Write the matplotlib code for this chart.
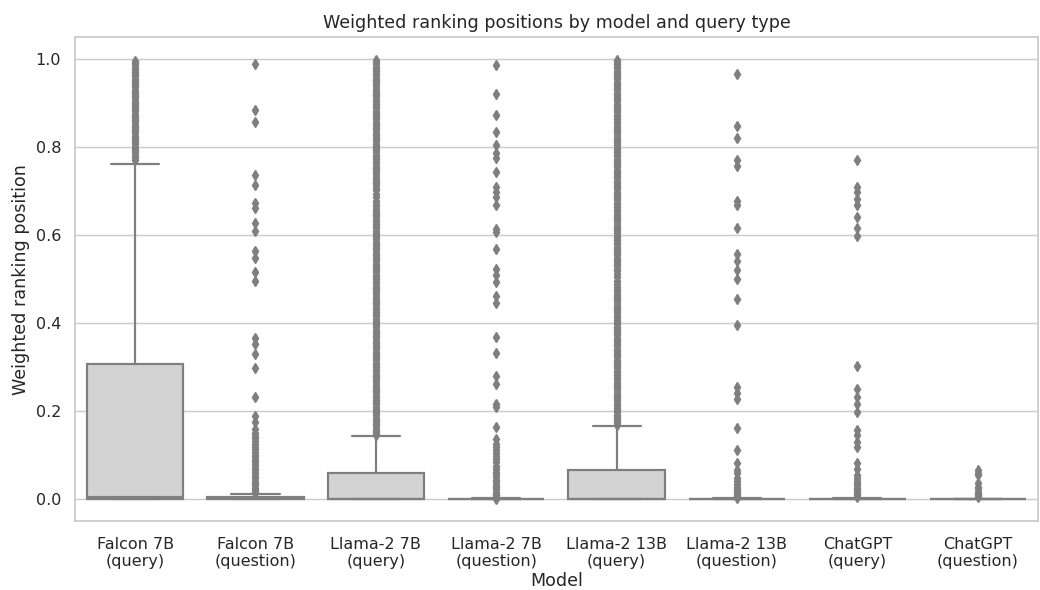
import matplotlib
matplotlib.use("Agg")
import matplotlib.pyplot as plt
import seaborn as sns

# categories along the x axis
models = ["Falcon 7B\n(query)", "Falcon 7B\n(question)", "Llama-2 7B\n(query)", "Llama-2 7B\n(question)",
          "Llama-2 13B\n(query)", "Llama-2 13B\n(question)", "ChatGPT\n(query)", "ChatGPT\n(question)"]

# box statistics
q1 = [0.0, 0.0, 0.0, 0.0, 0.0, 0.0, 0.0, 0.0]
med = [0.004, 0.002, 0.001, 0.0, 0.001, 0.0, 0.0, 0.0]
q3 = [0.307, 0.004, 0.060, 0.001, 0.066, 0.001, 0.001, 0.001]
whislo = [0.0, 0.0, 0.0, 0.0, 0.0, 0.0, 0.0, 0.0]
whishi = [0.762, 0.011, 0.143, 0.002, 0.166, 0.002, 0.002, 0.001]

# outliers per group (dense runs typed point by point)
fl_falcon_query = [0.770, 0.775, 0.780, 0.786, 0.791, 0.796, 0.801, 0.806, 0.811, 0.816, 0.821,
                   0.826, 0.831, 0.836, 0.841, 0.846, 0.851, 0.856, 0.861, 0.866, 0.871, 0.876,
                   0.881, 0.886, 0.891, 0.896, 0.901, 0.906, 0.911, 0.916, 0.921, 0.926, 0.931,
                   0.936, 0.941, 0.946, 0.951, 0.956, 0.961, 0.966, 0.971, 0.976, 0.981, 0.986,
                   0.991, 0.996]
fl_falcon_question = [0.988, 0.884, 0.858, 0.736, 0.713, 0.674, 0.662, 0.628, 0.610, 0.564, 0.548,
                      0.515, 0.495, 0.366, 0.352, 0.330, 0.297, 0.231, 0.188, 0.176, 0.160, 0.150,
                      0.144, 0.138, 0.131, 0.125, 0.119, 0.113, 0.107, 0.101, 0.095, 0.089, 0.083,
                      0.077, 0.071, 0.065, 0.059, 0.053, 0.047, 0.041, 0.036, 0.031, 0.026, 0.021,
                      0.017, 0.013]
fl_llama7_query = [0.146, 0.150, 0.155, 0.160, 0.165, 0.170, 0.175, 0.180, 0.185, 0.190, 0.195,
                   0.200, 0.205, 0.210, 0.215, 0.220, 0.225, 0.230, 0.235, 0.240, 0.245, 0.250,
                   0.255, 0.260, 0.265, 0.270, 0.275, 0.280, 0.285, 0.290, 0.295, 0.300, 0.305,
                   0.310, 0.315, 0.320, 0.325, 0.330, 0.335, 0.340, 0.345, 0.350, 0.355, 0.360,
                   0.365, 0.370, 0.375, 0.380, 0.385, 0.390, 0.395, 0.400, 0.405, 0.410, 0.415,
                   0.420, 0.425, 0.430, 0.435, 0.440, 0.445, 0.450, 0.455, 0.460, 0.465, 0.470,
                   0.475, 0.480, 0.485, 0.490, 0.495, 0.500, 0.505, 0.510, 0.515, 0.520, 0.525,
                   0.530, 0.535, 0.540, 0.545, 0.550, 0.555, 0.560, 0.565, 0.570, 0.575, 0.580,
                   0.585, 0.590, 0.595, 0.600, 0.605, 0.610, 0.615, 0.620, 0.625, 0.630, 0.635,
                   0.640, 0.645, 0.650, 0.655, 0.660, 0.665, 0.670, 0.678, 0.686, 0.694, 0.702,
                   0.708, 0.713, 0.718, 0.723, 0.728, 0.733, 0.738, 0.743, 0.748, 0.753, 0.758,
                   0.763, 0.768, 0.773, 0.778, 0.783, 0.788, 0.793, 0.798, 0.803, 0.808, 0.813,
                   0.818, 0.823, 0.828, 0.833, 0.838, 0.843, 0.848, 0.853, 0.858, 0.863, 0.868,
                   0.873, 0.878, 0.883, 0.888, 0.893, 0.898, 0.903, 0.908, 0.913, 0.918, 0.923,
                   0.928, 0.933, 0.938, 0.943, 0.948, 0.953, 0.958, 0.963, 0.968, 0.973, 0.978,
                   0.983, 0.988, 0.993, 0.997]
fl_llama7_question = [0.986, 0.920, 0.873, 0.834, 0.804, 0.786, 0.775, 0.743, 0.709, 0.698, 0.687,
                      0.668, 0.614, 0.608, 0.568, 0.524, 0.510, 0.493, 0.462, 0.446, 0.368, 0.332,
                      0.280, 0.261, 0.216, 0.208, 0.163, 0.137, 0.126, 0.118, 0.111, 0.104, 0.097,
                      0.090, 0.083, 0.076, 0.069, 0.062, 0.056, 0.050, 0.044, 0.038, 0.032, 0.027,
                      0.022, 0.017, 0.012, 0.008, 0.004, 0.001]
fl_llama13_query = [0.168, 0.172, 0.177, 0.182, 0.187, 0.192, 0.197, 0.202, 0.207, 0.212, 0.217,
                    0.222, 0.227, 0.232, 0.237, 0.242, 0.247, 0.252, 0.257, 0.262, 0.267, 0.272,
                    0.277, 0.282, 0.287, 0.292, 0.297, 0.302, 0.307, 0.312, 0.317, 0.322, 0.327,
                    0.332, 0.337, 0.342, 0.347, 0.352, 0.357, 0.362, 0.367, 0.372, 0.377, 0.382,
                    0.387, 0.392, 0.397, 0.402, 0.407, 0.412, 0.417, 0.422, 0.427, 0.432, 0.437,
                    0.442, 0.447, 0.452, 0.457, 0.462, 0.467, 0.472, 0.477, 0.482, 0.488, 0.496,
                    0.504, 0.512, 0.519, 0.524, 0.529, 0.534, 0.539, 0.544, 0.549, 0.554, 0.559,
                    0.564, 0.569, 0.574, 0.579, 0.584, 0.589, 0.594, 0.599, 0.604, 0.609, 0.614,
                    0.619, 0.624, 0.629, 0.634, 0.639, 0.644, 0.649, 0.654, 0.659, 0.664, 0.669,
                    0.674, 0.679, 0.684, 0.689, 0.694, 0.699, 0.704, 0.709, 0.714, 0.719, 0.724,
                    0.729, 0.734, 0.739, 0.744, 0.749, 0.754, 0.759, 0.764, 0.769, 0.774, 0.779,
                    0.784, 0.789, 0.794, 0.799, 0.804, 0.809, 0.814, 0.819, 0.824, 0.829, 0.834,
                    0.839, 0.844, 0.849, 0.854, 0.859, 0.864, 0.869, 0.874, 0.879, 0.884, 0.889,
                    0.894, 0.899, 0.904, 0.909, 0.914, 0.919, 0.924, 0.929, 0.934, 0.939, 0.944,
                    0.949, 0.954, 0.959, 0.964, 0.969, 0.974, 0.979, 0.984, 0.989, 0.993, 0.997]
fl_llama13_question = [0.967, 0.847, 0.820, 0.770, 0.758, 0.678, 0.668, 0.616, 0.558, 0.540, 0.521,
                       0.501, 0.454, 0.395, 0.254, 0.242, 0.228, 0.161, 0.111, 0.081, 0.066, 0.058,
                       0.047, 0.040, 0.034, 0.028, 0.023, 0.018, 0.014, 0.010, 0.006, 0.003]
fl_chatgpt_query = [0.771, 0.709, 0.698, 0.683, 0.668, 0.642, 0.616, 0.598, 0.303, 0.250, 0.231,
                    0.216, 0.197, 0.156, 0.145, 0.130, 0.118, 0.081, 0.069, 0.054, 0.047, 0.041,
                    0.036, 0.031, 0.026, 0.021, 0.016, 0.012, 0.008, 0.004]
fl_chatgpt_question = [0.066, 0.060, 0.054, 0.036, 0.028, 0.022, 0.017, 0.012, 0.008, 0.004]

fliers = [fl_falcon_query, fl_falcon_question, fl_llama7_query, fl_llama7_question,
          fl_llama13_query, fl_llama13_question, fl_chatgpt_query, fl_chatgpt_question]

sns.set_theme(style="whitegrid")
plt.rcParams['font.family'] = ['DejaVu Sans']

fig, ax = plt.subplots(figsize=(1040 / 105, 590 / 105), dpi=105)
fig.subplots_adjust(left=0.072, right=0.998, bottom=0.117, top=0.937)

stats = []
for i in range(len(models)):
    stats.append({"q1": q1[i], "med": med[i], "q3": q3[i], "whislo": whislo[i],
                  "whishi": whishi[i], "fliers": fliers[i], "label": models[i]})

line_gray = "#7f7f7f"
ax.bxp(stats, positions=range(len(models)), widths=0.8, patch_artist=True,
       boxprops=dict(facecolor="lightgray", edgecolor=line_gray, linewidth=1.5),
       medianprops=dict(color=line_gray, linewidth=1.5),
       whiskerprops=dict(color=line_gray, linewidth=1.5),
       capprops=dict(color=line_gray, linewidth=1.5),
       flierprops=dict(marker="d", markerfacecolor=line_gray, markeredgecolor=line_gray,
                       markersize=5, linestyle="none"))

ax.set_xlim(-0.5, len(models) - 0.5)
ax.set_ylim(-0.05, 1.05)
ax.xaxis.grid(False)
ax.set_xticks(range(len(models)))
ax.set_xticklabels(models)
ax.tick_params(axis="x", pad=5)
ax.set_xlabel("Model", labelpad=2)
ax.set_ylabel("Weighted ranking position")
ax.set_title("Weighted ranking positions by model and query type")

plt.savefig("out.png", dpi=105)
